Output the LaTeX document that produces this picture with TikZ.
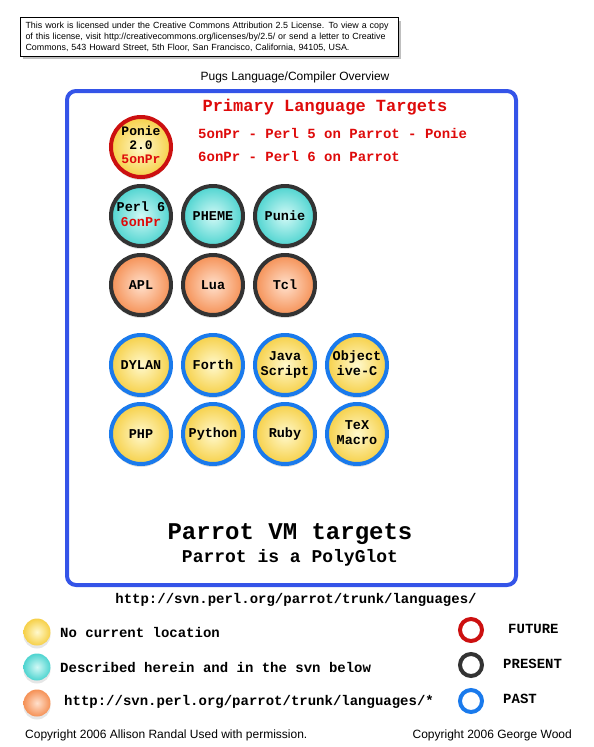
\documentclass[tikz,border=0pt]{standalone}
\usepackage{fontspec}
\setmainfont{Liberation Sans}
\setmonofont{Liberation Mono}
\usetikzlibrary{matrix,positioning,shadows}

\definecolor{boxblue}{RGB}{52,84,232}
\definecolor{pastblue}{RGB}{26,122,236}
\definecolor{presentgrey}{RGB}{51,51,51}
\definecolor{futurered}{RGB}{204,16,16}
\definecolor{textred}{RGB}{222,10,10}
\definecolor{yellowin}{RGB}{255,249,205}
\definecolor{yellowout}{RGB}{246,208,72}
\definecolor{cyanin}{RGB}{210,249,246}
\definecolor{cyanout}{RGB}{78,212,208}
\definecolor{orangein}{RGB}{255,224,204}
\definecolor{orangeout}{RGB}{245,145,86}

\newcommand{\langlines}[1]{\begin{tabular}{@{}c@{}}#1\end{tabular}}

\begin{document}
\begin{tikzpicture}[x=1pt,y=-1pt,
        lang/.style={circle,anchor=center,minimum size=60pt,inner sep=0pt,line width=4pt,
            font=\ttfamily\bfseries\fontsize{13.5}{15}\selectfont,
            drop shadow={opacity=0.25,shadow xshift=0pt,shadow yshift=-3pt}},
        nocur/.style={shading=radial,inner color=yellowin,outer color=yellowout},
        herein/.style={shading=radial,inner color=cyanin,outer color=cyanout},
        insvn/.style={shading=radial,inner color=orangein,outer color=orangeout},
        futurering/.style={draw=futurered},
        presentring/.style={draw=presentgrey},
        pastring/.style={draw=pastblue},
        legball/.style={circle,minimum size=27pt,inner sep=0pt,
            drop shadow={opacity=0.2,shadow xshift=0pt,shadow yshift=-3pt}},
        legring/.style={circle,minimum size=22pt,inner sep=0pt,line width=4pt},
        monotext/.style={inner sep=0pt,font=\ttfamily\bfseries\fontsize{14}{16}\selectfont},
        sanstext/.style={inner sep=0pt,font=\fontsize{12}{14}\selectfont}]
    \useasboundingbox (0,0) rectangle (594,747);
    % licence note
    \node[draw,fill=white,line width=1pt,anchor=north west,align=left,text width=368pt,
        inner xsep=5pt,inner ysep=4.5pt,font=\fontsize{8.9}{11}\selectfont,
        drop shadow={opacity=0.5,shadow xshift=2pt,shadow yshift=-3pt}] (licence) at (20,17)
        {This work is licensed under the Creative Commons Attribution 2.5 License. To view a copy\\
         of this license, visit http://creativecommons.org/licenses/by/2.5/ or send a letter to Creative\\
         Commons, 543 Howard Street, 5th Floor, San Francisco, California, 94105, USA.};
    \node[sanstext] (title) at (295,77) {Pugs Language/Compiler Overview};
    % the Parrot frame
    \draw[boxblue,line width=4pt,rounded corners=9pt] (67,91) rectangle (516,585);
    \node[monotext,textred,font=\ttfamily\bfseries\fontsize{17}{19}\selectfont] (primary) at (325,107) {Primary Language Targets};
    \node[monotext,textred,anchor=west] (fiveonpr) at (198,133) {5onPr - Perl 5 on Parrot - Ponie};
    \node[monotext,textred,anchor=west] (sixonpr) at (198,156) {6onPr - Perl 6 on Parrot};
    \matrix (langs) [matrix of nodes,column sep=8pt,row sep=5pt,matrix anchor=langs-1-1.center] at (141,147) {
        |[lang,nocur,futurering,font=\ttfamily\bfseries\fontsize{13}{14}\selectfont]| \langlines{Ponie\\2.0\\\textcolor{textred}{5onPr}} & & & \\
        |[lang,herein,presentring]| \langlines{Perl 6\\\textcolor{textred}{6onPr}} & |[lang,herein,presentring]| PHEME & |[lang,herein,presentring]| Punie & \\
        |[lang,insvn,presentring]| APL & |[lang,insvn,presentring]| Lua & |[lang,insvn,presentring]| Tcl & \\[11pt]
        |[lang,nocur,pastring]| DYLAN & |[lang,nocur,pastring]| Forth & |[lang,nocur,pastring]| \langlines{Java\\Script} & |[lang,nocur,pastring]| \langlines{Object\\ive-C} \\
        |[lang,nocur,pastring]| PHP & |[lang,nocur,pastring]| Python & |[lang,nocur,pastring]| Ruby & |[lang,nocur,pastring]| \langlines{TeX\\Macro} \\
    };
    \node[monotext,font=\ttfamily\bfseries\fontsize{24}{26}\selectfont] (vmtargets) at (290,534) {Parrot VM targets};
    \node[monotext,font=\ttfamily\bfseries\fontsize{18}{20}\selectfont] (polyglot) at (290,558) {Parrot is a PolyGlot};
    \node[monotext] (svnurl) at (296,600) {http://svn.perl.org/parrot/trunk/languages/};
    % legend
    \node[legball,nocur] (nocurball) at (37,632) {};
    \node[legball,herein] (hereinball) at (37,667) {};
    \node[legball,insvn] (svnball) at (37,703) {};
    \node[monotext,anchor=west] (nocurtext) at (60,632) {No current location};
    \node[monotext,anchor=west] (hereintext) at (60,667) {Described herein and in the svn below};
    \node[monotext,anchor=west] (svntext) at (64,702) {http://svn.perl.org/parrot/trunk/languages/*};
    \node[legring,futurering] (futuremark) at (471,630) {};
    \node[legring,presentring] (presentmark) at (471,665) {};
    \node[legring,pastring] (pastmark) at (471,701) {};
    \node[monotext,anchor=west] (futurelabel) at (508,629) {FUTURE};
    \node[monotext,anchor=west] (presentlabel) at (503,664) {PRESENT};
    \node[monotext,anchor=west] (pastlabel) at (503,699) {PAST};
    \node[sanstext,anchor=west] (leftcopy) at (25,735) {Copyright 2006 Allison Randal Used with permission.};
    \node[sanstext,anchor=east] (rightcopy) at (572,735) {Copyright 2006 George Wood};
\end{tikzpicture}
\end{document}
